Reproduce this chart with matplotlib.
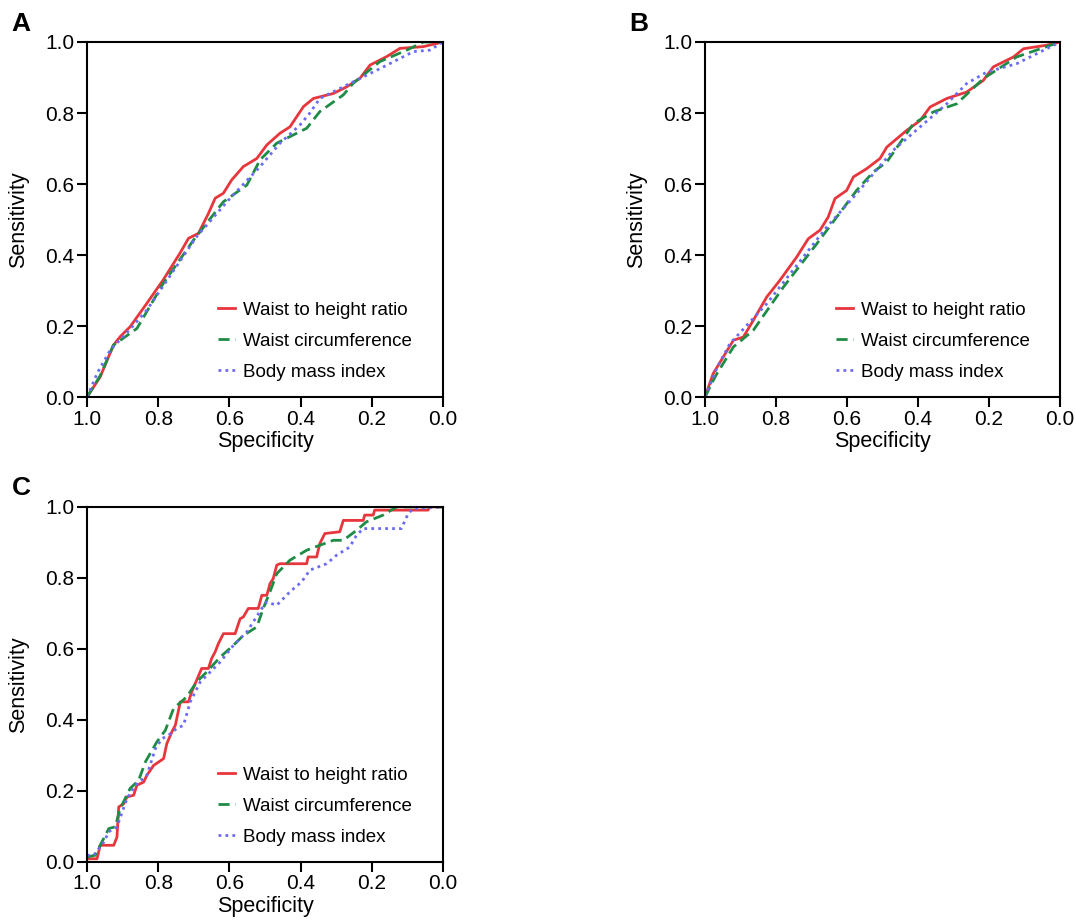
import matplotlib
matplotlib.use("Agg")
import matplotlib.pyplot as plt

plt.rcParams["font.family"] = ["Liberation Sans", "DejaVu Sans"]

# ---- panel A: (specificity, sensitivity) ----
a_whtr_spec = [1.0, 0.963, 0.926, 0.907, 0.879, 0.832, 0.786, 0.739, 0.715, 0.687, 0.659, 0.640,
               0.617, 0.594, 0.561, 0.523, 0.495, 0.458, 0.430, 0.392, 0.364, 0.308, 0.270, 0.233,
               0.205, 0.158, 0.121, 0.055, 0.0]
a_whtr_sens = [0.0, 0.057, 0.146, 0.170, 0.198, 0.264, 0.330, 0.405, 0.447, 0.461, 0.517, 0.560,
               0.574, 0.611, 0.649, 0.672, 0.710, 0.743, 0.761, 0.818, 0.841, 0.855, 0.874, 0.898,
               0.935, 0.959, 0.982, 0.987, 1.0]
a_wc_spec = [1.0, 0.963, 0.926, 0.860, 0.786, 0.701, 0.617, 0.551, 0.514, 0.467, 0.383, 0.346,
             0.280, 0.252, 0.177, 0.102, 0.055, 0.0]
a_wc_sens = [0.0, 0.060, 0.146, 0.193, 0.320, 0.442, 0.550, 0.597, 0.668, 0.715, 0.757, 0.804,
             0.851, 0.884, 0.945, 0.977, 1.0, 1.0]
a_bmi_spec = [1.0, 0.970, 0.935, 0.880, 0.832, 0.692, 0.598, 0.514, 0.458, 0.402, 0.374, 0.346,
              0.270, 0.177, 0.083, 0.037, 0.0]
a_bmi_sens = [0.0, 0.070, 0.132, 0.190, 0.245, 0.452, 0.560, 0.649, 0.715, 0.766, 0.800, 0.841,
              0.879, 0.925, 0.973, 0.977, 1.0]

# ---- panel B ----
b_whtr_spec = [1.0, 0.977, 0.920, 0.892, 0.864, 0.826, 0.789, 0.742, 0.709, 0.676, 0.653, 0.634,
               0.601, 0.582, 0.545, 0.507, 0.488, 0.432, 0.394, 0.366, 0.319, 0.263, 0.216, 0.188,
               0.131, 0.103, 0.038, 0.0]
b_whtr_sens = [0.0, 0.066, 0.160, 0.169, 0.216, 0.282, 0.329, 0.394, 0.446, 0.470, 0.507, 0.559,
               0.582, 0.620, 0.643, 0.672, 0.704, 0.751, 0.779, 0.817, 0.841, 0.859, 0.892, 0.930,
               0.958, 0.981, 0.991, 1.0]
b_wc_spec = [1.0, 0.970, 0.920, 0.864, 0.779, 0.685, 0.629, 0.573, 0.526, 0.488, 0.413, 0.357,
             0.291, 0.216, 0.122, 0.0]
b_wc_sens = [0.0, 0.060, 0.141, 0.188, 0.310, 0.432, 0.507, 0.582, 0.634, 0.662, 0.770, 0.803,
             0.826, 0.897, 0.958, 1.0]
b_bmi_spec = [1.0, 0.965, 0.930, 0.826, 0.657, 0.573, 0.470, 0.394, 0.319, 0.263, 0.207, 0.122, 0.0]
b_bmi_sens = [0.0, 0.085, 0.150, 0.263, 0.479, 0.573, 0.695, 0.761, 0.826, 0.883, 0.915, 0.939, 1.0]

# ---- panel C ----
c_whtr_spec = [1.0, 0.972, 0.963, 0.925, 0.916, 0.911, 0.897, 0.888, 0.869, 0.860, 0.841, 0.832,
               0.813, 0.785, 0.776, 0.762, 0.752, 0.738, 0.715, 0.706, 0.692, 0.678, 0.659, 0.650,
               0.640, 0.631, 0.617, 0.584, 0.570, 0.561, 0.547, 0.519, 0.509, 0.495, 0.486, 0.477,
               0.467, 0.458, 0.383, 0.379, 0.355, 0.346, 0.332, 0.290, 0.280, 0.224, 0.220, 0.196,
               0.192, 0.042, 0.037, 0.0]
c_whtr_sens = [0.009, 0.009, 0.047, 0.047, 0.070, 0.155, 0.164, 0.183, 0.188, 0.216, 0.225, 0.244,
               0.272, 0.291, 0.333, 0.366, 0.385, 0.451, 0.451, 0.479, 0.512, 0.545, 0.545, 0.573,
               0.592, 0.615, 0.643, 0.643, 0.685, 0.690, 0.714, 0.714, 0.751, 0.751, 0.784, 0.798,
               0.836, 0.840, 0.840, 0.859, 0.859, 0.897, 0.925, 0.930, 0.962, 0.962, 0.977, 0.977,
               0.991, 0.991, 1.0, 1.0]
c_wc_spec = [1.0, 0.977, 0.963, 0.939, 0.921, 0.907, 0.879, 0.855, 0.836, 0.804, 0.780, 0.757,
             0.720, 0.692, 0.664, 0.626, 0.589, 0.561, 0.523, 0.505, 0.486, 0.467, 0.430, 0.383,
             0.346, 0.308, 0.280, 0.243, 0.215, 0.168, 0.131, 0.0]
c_wc_sens = [0.014, 0.019, 0.047, 0.094, 0.099, 0.150, 0.207, 0.230, 0.282, 0.338, 0.371, 0.432,
             0.465, 0.507, 0.535, 0.577, 0.610, 0.638, 0.662, 0.714, 0.761, 0.812, 0.850, 0.878,
             0.892, 0.906, 0.906, 0.934, 0.958, 0.977, 1.0, 1.0]
c_bmi_spec = [1.0, 0.981, 0.953, 0.939, 0.916, 0.888, 0.864, 0.832, 0.808, 0.790, 0.771, 0.748,
              0.729, 0.710, 0.682, 0.654, 0.626, 0.589, 0.551, 0.509, 0.495, 0.467, 0.430, 0.397,
              0.374, 0.327, 0.299, 0.262, 0.243, 0.224, 0.117, 0.098, 0.084, 0.0]
c_bmi_sens = [0.019, 0.019, 0.056, 0.085, 0.099, 0.178, 0.216, 0.244, 0.319, 0.347, 0.357, 0.376,
              0.385, 0.451, 0.507, 0.535, 0.563, 0.610, 0.648, 0.714, 0.732, 0.723, 0.761, 0.789,
              0.822, 0.840, 0.864, 0.887, 0.920, 0.939, 0.939, 0.981, 0.995, 1.0]

labels = ["Waist to height ratio", "Waist circumference", "Body mass index"]
colors = ["#E8363D", "#1E8C45", "#6B6BF5"]
styles = ["-", (0, (4, 2)), (0, (1, 1.5))]

panels = [
    ("A", [0.0809, 0.5689, 0.3308, 0.3855],
     [(a_whtr_spec, a_whtr_sens), (a_wc_spec, a_wc_sens), (a_bmi_spec, a_bmi_sens)]),
    ("B", [0.6552, 0.5689, 0.3300, 0.3855],
     [(b_whtr_spec, b_whtr_sens), (b_wc_spec, b_wc_sens), (b_bmi_spec, b_bmi_sens)]),
    ("C", [0.0809, 0.0641, 0.3308, 0.3855],
     [(c_whtr_spec, c_whtr_sens), (c_wc_spec, c_wc_sens), (c_bmi_spec, c_bmi_sens)]),
]

fig = plt.figure(figsize=(10.76, 9.21), dpi=100)

for letter, rect, series in panels:
    ax = fig.add_axes(rect)
    for (x, y), lab, col, ls in zip(series, labels, colors, styles):
        ax.plot(x, y, color=col, linestyle=ls, linewidth=2.0, label=lab)
    ax.set_xlim(1.0, 0.0)
    ax.set_ylim(0.0, 1.0)
    ax.set_xticks([1.0, 0.8, 0.6, 0.4, 0.2, 0.0])
    ax.set_yticks([0.0, 0.2, 0.4, 0.6, 0.8, 1.0])
    ax.set_xticklabels(["1.0", "0.8", "0.6", "0.4", "0.2", "0.0"])
    ax.set_yticklabels(["0.0", "0.2", "0.4", "0.6", "0.8", "1.0"])
    ax.tick_params(direction="out", length=7, width=1.5, labelsize=15, pad=2)
    for sp in ax.spines.values():
        sp.set_linewidth(1.5)
    ax.set_xlabel("Specificity", fontsize=15.5, labelpad=2)
    ax.set_ylabel("Sensitivity", fontsize=15.5, labelpad=12)
    ax.legend(loc="lower left", bbox_to_anchor=(0.368, 0.046), frameon=False,
              fontsize=13.5, handlelength=0.9, handletextpad=0.43, labelspacing=0.74,
              borderpad=0, borderaxespad=0)
    # panel letter
    fig.text(rect[0] - 0.07, rect[1] + rect[3] + 0.007, letter, fontsize=19,
             fontweight="bold", ha="left", va="bottom")

fig.savefig("out.png", dpi=100)
